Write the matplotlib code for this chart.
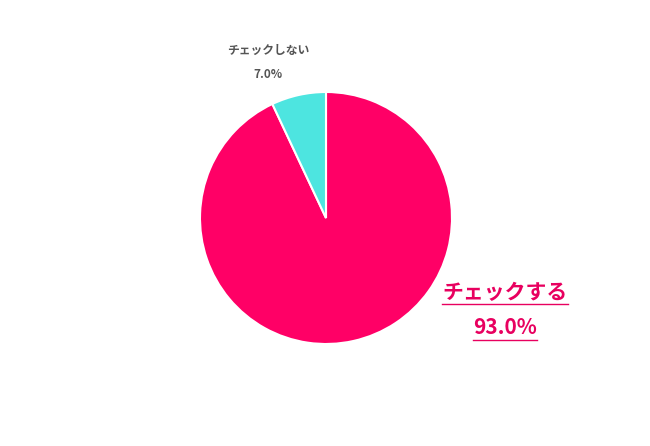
import matplotlib
matplotlib.use("Agg")
import matplotlib.pyplot as plt

plt.rcParams['font.family'] = ['Noto Sans CJK JP', 'DejaVu Sans']

labels = ["チェックする", "チェックしない"]
values = [93.0, 7.0]
colors = ["#FF0066", "#4DE5E0"]

W, H = 650, 446
fig = plt.figure(figsize=(6.5, 4.46), dpi=100)
ax = fig.add_axes([0, 0, 1, 1])

ax.pie(values, colors=colors, startangle=90, counterclock=False,
       center=(326, H - 218), radius=126, frame=True,
       wedgeprops=dict(edgecolor='white', linewidth=1.5))
ax.set_xlim(0, W)
ax.set_ylim(0, H)
ax.set_aspect('equal')
ax.axis('off')

# small label
ax.text(268, H - 50, labels[1], ha='center', va='center', fontsize=8.5,
        fontweight='bold', color='#555555')
ax.text(268, H - 74, f"{values[1]:.1f}%", ha='center', va='center', fontsize=8.5,
        fontweight='bold', color='#555555')

# big label, underlined
pink = "#E8005F"
t1 = ax.text(505, H - 293, labels[0], ha='center', va='center', fontsize=15,
             fontweight='bold', color=pink)
t2 = ax.text(505, H - 328, f"{values[0]:.1f}%", ha='center', va='center', fontsize=15,
             fontweight='bold', color=pink)
fig.canvas.draw()
r = fig.canvas.get_renderer()
inv = ax.transData.inverted()
for t, ypix in ((t1, 304), (t2, 340)):
    bb = t.get_window_extent(r)
    x0 = inv.transform((bb.x0, 0))[0]
    x1 = inv.transform((bb.x1, 0))[0]
    ax.plot([x0, x1], [H - ypix, H - ypix], color=pink, lw=1.0)

fig.savefig("out.png", dpi=100)
